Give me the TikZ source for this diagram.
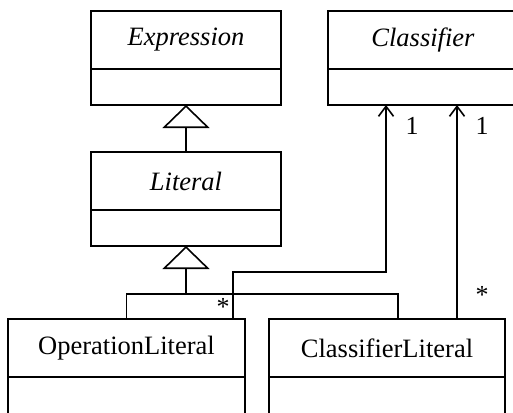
\documentclass[tikz,border=0pt]{standalone}
\usepackage{fontspec}
\setmainfont{Liberation Serif}
\usetikzlibrary{arrows.meta}
\begin{document}
\begin{tikzpicture}[x=1pt,y=-1pt,
  namepart/.style={draw,line width=2.4pt,outer sep=0pt,inner sep=0pt,
    minimum height=58pt,anchor=north west,font=\fontsize{26.5}{31}\selectfont},
  attrpart/.style={draw,line width=2.4pt,outer sep=0pt,inner sep=0pt,
    minimum height=36pt,anchor=north west},
  conn/.style={line width=1.6pt},
  gen/.style={conn,-{Triangle[open,length=23pt,width=47pt,line width=1.6pt,fill=white]}},
  nav/.style={conn,-{Straight Barb[length=10pt,width=15pt,line width=1.6pt]}},
  mult/.style={inner sep=0pt,font=\fontsize{26}{30}\selectfont}]
\useasboundingbox (0,0) rectangle (513,412);
\clip (0,0) rectangle (513,412);

% classes: name compartment + attribute compartment
\node[namepart,minimum width=190pt] (expr) at (91,11) {\textit{Expression}};
\node[attrpart,minimum width=190pt] (expra) at (expr.south west) {};

\node[namepart,minimum width=190pt] (cls) at (328,11) {\textit{Classifier}};
\node[attrpart,minimum width=190pt] (clsa) at (cls.south west) {};

\node[namepart,minimum width=190pt] (lit) at (91,152) {\textit{Literal}};
\node[attrpart,minimum width=190pt] (lita) at (lit.south west) {};

\node[namepart,minimum width=237pt] (op) at (8,319) {OperationLiteral};
\node[attrpart,minimum width=237pt,minimum height=60pt] (opa) at (op.south west) {};

\node[namepart,minimum width=236pt] (cl) at (269,319) {ClassifierLiteral};
\node[attrpart,minimum width=236pt,minimum height=60pt] (cla) at (cl.south west) {};

% generalizations
\draw[gen] (lit.north) -- (expra.south);
\coordinate (split) at (186,294);
\draw[gen] (split) -- (lita.south);
\draw[conn] (op.north) |- (split) -| ([xshift=11]cl.north);

% associations to Classifier
\coordinate (bend) at (386,272);
\draw[nav] ([xshift=106.5]op.north) |- (bend) -- ([xshift=-37]clsa.south);
\draw[nav] ([xshift=70]cl.north) -- ([xshift=34]clsa.south);

% multiplicities
\node[mult] (m1) at (412,126) {1};
\node[mult] (m2) at (482,126) {1};
\node[mult] (m3) at (223,307) {*};
\node[mult] (m4) at (482,295) {*};
\end{tikzpicture}
\end{document}
